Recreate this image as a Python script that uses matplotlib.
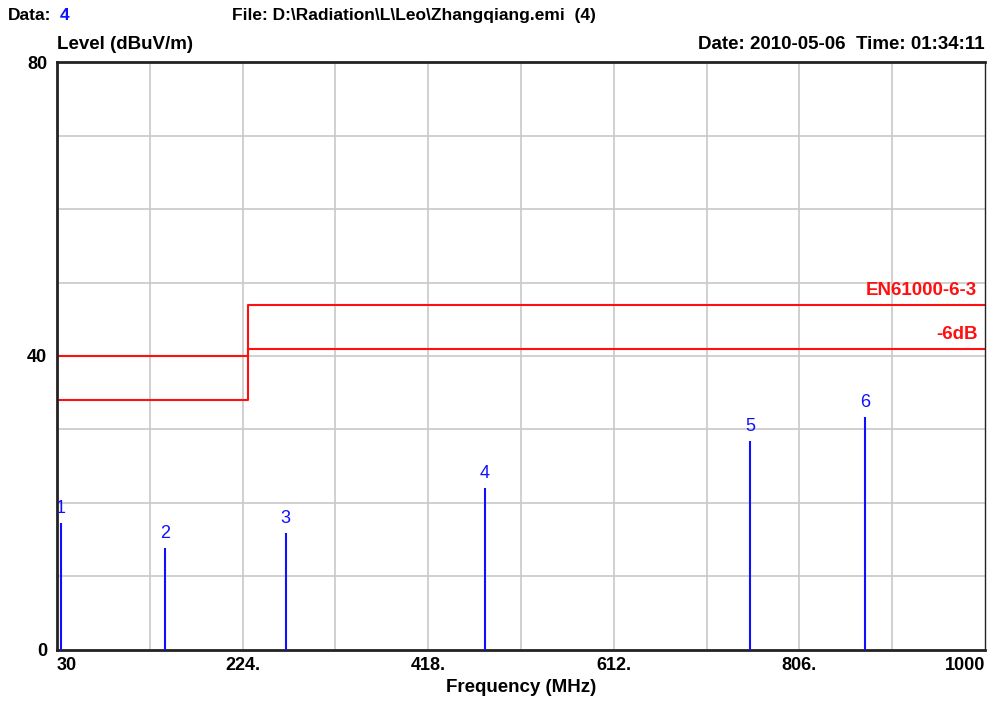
import matplotlib
matplotlib.use('Agg')
import matplotlib.pyplot as plt
import numpy as np

plt.rcParams['font.family'] = ['Liberation Sans', 'DejaVu Sans']

# ========== DATA ==========
# limit line EN61000-6-3 (step at 230 MHz) and the -6dB margin line
limit_freq = [30, 230, 230, 1000]
limit_level = [40, 40, 47, 47]
margin_level = [34, 34, 41, 41]

# marker peaks
marker_id = ['1', '2', '3', '4', '5', '6']
marker_freq = [34, 142.5, 269, 477.5, 754.5, 874.5]
marker_level = [17.3, 13.9, 15.9, 22.1, 28.5, 31.7]

x_ticks = [30, 224, 418, 612, 806, 1000]
x_ticklabels = ['30', '224.', '418.', '612.', '806.', '1000']
y_ticks = [0, 40, 80]

RED = '#ff1010'
BLUE = '#1010ff'

fig = plt.figure(figsize=(10, 7.03), dpi=100)
ax = fig.add_axes([0.057, 0.0754, 0.928, 0.8364])

# grid
for gx in np.arange(30 + 97, 1000, 97):
    ax.axvline(gx, color='#c8c8c8', lw=1.2, zorder=0)
for gy in range(10, 80, 10):
    ax.axhline(gy, color='#c8c8c8', lw=1.2, zorder=0)

# limit lines
ax.plot(limit_freq, limit_level, color=RED, lw=1.5, zorder=2)
ax.plot(limit_freq, margin_level, color=RED, lw=1.5, zorder=2)
ax.text(992, limit_level[-1] + 0.8, 'EN61000-6-3', color=RED, fontsize=13.5,
        fontweight='bold', ha='right', va='bottom')
ax.text(992, margin_level[-1] + 0.8, '-6dB', color=RED, fontsize=13.5,
        fontweight='bold', ha='right', va='bottom')

# marker peaks
ax.vlines(marker_freq, 0, marker_level, color=BLUE, lw=1.5, zorder=3)
for mid, f, lv in zip(marker_id, marker_freq, marker_level):
    ax.text(f, lv + 0.8, mid, color=BLUE, fontsize=13, ha='center', va='bottom')

ax.set_xlim(30, 1000)
ax.set_ylim(0, 80)
ax.set_xticks(x_ticks)
ax.set_xticklabels(x_ticklabels, fontsize=13, fontweight='bold')
labels = ax.get_xticklabels()
labels[0].set_ha('left')
labels[-1].set_ha('right')
ax.set_yticks(y_ticks)
ax.set_yticklabels([str(v) for v in y_ticks], fontsize=13, fontweight='bold')
ax.tick_params(length=0, pad=5)
ax.tick_params(axis='y', pad=7)

for side in ['top', 'left', 'bottom']:
    ax.spines[side].set_linewidth(2)
    ax.spines[side].set_color('#222222')
ax.spines['right'].set_linewidth(1)
ax.spines['right'].set_color('#222222')

ax.set_xlabel('Frequency (MHz)', fontsize=13.5, fontweight='bold', labelpad=4)

# header texts
fig.text(0.008, 0.978, 'Data:', fontsize=12.5, fontweight='bold', va='center')
fig.text(0.060, 0.978, '4', fontsize=12.5, fontweight='bold', color=BLUE, va='center')
fig.text(0.232, 0.978, 'File: D:\\Radiation\\L\\Leo\\Zhangqiang.emi  (4)', fontsize=12.5,
         fontweight='bold', va='center')
fig.text(0.057, 0.936, 'Level (dBuV/m)', fontsize=13.5, fontweight='bold', va='center')
fig.text(0.985, 0.936, 'Date: 2010-05-06  Time: 01:34:11', fontsize=13.5,
         fontweight='bold', va='center', ha='right')

plt.savefig('out.png', dpi=100)
